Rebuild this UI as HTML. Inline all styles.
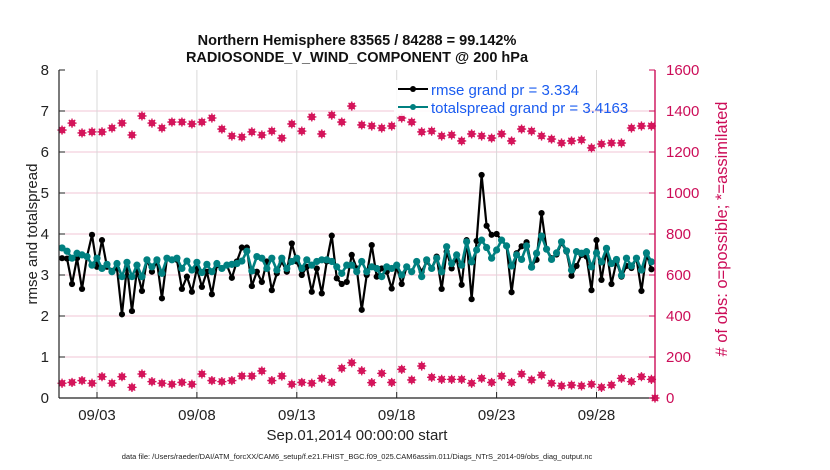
<!DOCTYPE html>
<html><head><meta charset="utf-8"><style>
body{margin:0;background:#fff;}
svg{display:block;font-family:"Liberation Sans",Arial,sans-serif;}
</style></head><body>
<svg id="chart" width="830" height="470" viewBox="0 0 830 470"></svg>
<script>
const rmseValues=[3.41,3.4,2.78,3.41,2.66,3.45,3.98,3.2,3.85,3.2,3.1,3.16,2.04,3.2,2.12,3.12,2.61,3.37,3.08,3.33,2.43,3.41,3.37,3.37,2.66,2.96,2.59,3.16,2.71,3.08,2.53,3.24,3.16,3.24,2.93,3.33,3.67,3.67,2.73,3.08,
2.83,3.33,2.63,3.04,3.33,3.08,3.77,3.33,3.0,3.2,2.59,3.16,2.55,3.33,3.96,2.92,2.78,2.83,3.49,3.16,2.15,3.0,3.73,2.96,3.16,3.08,2.67,3.2,2.78,3.2,3.08,3.33,3.08,3.33,3.16,3.45,2.66,3.57,3.16,3.4,
2.76,3.85,2.41,3.83,5.44,4.2,3.98,4.0,3.85,3.7,2.58,3.53,3.7,3.8,3.22,3.37,4.51,3.63,3.41,3.5,3.78,3.57,2.98,3.22,3.49,3.45,2.63,3.85,2.88,3.63,2.78,3.33,2.96,3.22,3.17,3.41,2.61,3.51,3.14];
const spreadValues=[3.66,3.58,3.41,3.53,3.49,3.45,3.24,3.41,3.16,3.26,3.08,3.28,2.96,3.31,2.96,3.24,2.96,3.37,3.2,3.37,3.04,3.41,3.37,3.41,3.16,3.34,3.12,3.31,3.06,3.26,3.08,3.28,3.16,3.24,3.26,3.28,3.34,3.58,3.1,3.45,
3.41,3.16,3.41,3.12,3.41,3.16,3.33,3.41,3.16,3.37,3.24,3.33,3.37,3.37,3.33,3.2,3.04,3.24,3.24,3.08,3.33,3.08,3.2,3.16,2.96,3.2,3.16,3.24,3.0,3.2,3.08,3.33,2.96,3.37,3.16,3.41,3.08,3.69,3.28,
3.49,3.24,3.81,3.32,3.61,3.85,3.67,3.41,3.61,3.85,3.71,3.22,3.49,3.38,3.71,3.19,3.53,3.95,3.63,3.38,3.54,3.81,3.59,3.12,3.57,3.53,3.57,3.2,3.54,3.32,3.65,3.28,3.38,2.99,3.41,3.22,3.41,3.12,3.54,3.32];
const obsPossible=[1307,1341,1293,1298,1298,1317,1341,1283,1376,1341,1317,1346,1346,1337,1346,1366,1312,1278,1273,1298,1283,1302,1268,1337,1302,1371,1288,1380,1346,1424,
1332,1327,1317,1327,1366,1346,1298,1302,1278,1283,1254,1288,1278,1268,1288,1254,1312,1302,1278,1263,1244,1254,1259,1220,1239,1244,1244,1317,1327,1327];
const obsLow=[72,76,85,72,104,72,104,52,117,80,72,67,76,67,117,85,80,85,107,107,132,85,107,67,76,72,96,76,145,172,
133,75,120,76,140,88,156,101,91,91,91,72,96,76,107,76,117,88,112,72,59,63,59,67,52,63,96,80,104,91];
const leftTicks=[0,1,2,3,4,5,6,7,8];
const rightTicks=[0,200,400,600,800,1000,1200,1400,1600];
const xTickDays=[3,8,13,18,23,28];
const xTickLabels=["09/03","09/08","09/13","09/18","09/23","09/28"];

const NS="http://www.w3.org/2000/svg";
const svg=document.getElementById('chart');
const L=59,R=655,T=70,B=398;
function xDay(d){return 97+(d-3)*19.98;}
function yL(v){return B-(v/8)*(B-T);}
function yR(n){return B-(n/1600)*(B-T);}
function mk(tag,attrs,parent){const e=document.createElementNS(NS,tag);for(const k in attrs)e.setAttribute(k,attrs[k]);(parent||svg).appendChild(e);return e;}
function txt(s,attrs){const e=mk('text',attrs);e.textContent=s;return e;}

leftTicks.forEach(v=>{if(v>0&&v<8){const g=mk('line',{x1:L,x2:R,y1:yL(v),y2:yL(v),stroke:'#f2c6d6','stroke-width':1});

}});
xTickDays.forEach(d=>{const g=mk('line',{x1:xDay(d),x2:xDay(d),y1:T,y2:B,stroke:'#d8d8d8','stroke-width':1});

});

function star(x,y,name){const g=mk('g',{fill:'#d4145a',stroke:'#d4145a'});


mk('circle',{cx:x,cy:y,r:3.1,'stroke-width':0.6,fill:'#d4145a'},g);
mk('path',{d:`M${x-4.6} ${y}H${x+4.6}M${x} ${y-4.6}V${y+4.6}M${x-3.2} ${y-3.2}L${x+3.2} ${y+3.2}M${x-3.2} ${y+3.2}L${x+3.2} ${y-3.2}`,'stroke-width':1.3},g);}
obsPossible.forEach((n,k)=>star(xDay(1.25+0.5*k),yR(n),'obs-count-marker'));
obsLow.forEach((n,k)=>star(xDay(1.25+0.5*k),yR(n),'obs-low-marker'));
star(R,yR(0),'obs-zero-marker');

function series(vals,color,r,name,lw){
 const pts=vals.map((v,i)=>[xDay(1.25+0.25*i),yL(v)]);
 const p=mk('polyline',{points:pts.map(p=>p.join(',')).join(' '),fill:'none',stroke:color,'stroke-width':lw,'stroke-linejoin':'round'});
 
 
 pts.forEach(q=>{const c=mk('circle',{cx:q[0],cy:q[1],r:r,fill:color});
 
 });
}
series(rmseValues,'#000',3.1,'rmse',2.2);
series(spreadValues,'#008080',3.6,'totalspread',2.6);

const ax=mk('g',{});


mk('line',{x1:L,x2:L,y1:T,y2:B,stroke:'#222','stroke-width':1.2},ax);
mk('line',{x1:L,x2:R,y1:B,y2:B,stroke:'#222','stroke-width':1.2},ax);
mk('line',{x1:R,x2:R,y1:T,y2:B,stroke:'#cc0d58','stroke-width':1.4},ax);
leftTicks.forEach(v=>{mk('line',{x1:L,x2:L+6,y1:yL(v),y2:yL(v),stroke:'#222'},ax);
const t=txt(String(v),{x:L-10,y:yL(v)+5,'text-anchor':'end','font-size':15,fill:'#222'});

});
rightTicks.forEach(v=>{mk('line',{x1:R-6,x2:R,y1:yR(v),y2:yR(v),stroke:'#cc0d58'},ax);
const t=txt(String(v),{x:R+11,y:yR(v)+5,'font-size':15,fill:'#cc0d58'});

});
xTickDays.forEach((d,i)=>{mk('line',{x1:xDay(d),x2:xDay(d),y1:B-6,y2:B,stroke:'#222'},ax);
const t=txt(xTickLabels[i],{x:xDay(d),y:420,'text-anchor':'middle','font-size':15,fill:'#222'});

});
</script>
<svg width="830" height="470" style="position:absolute;left:0;top:0">
<g font-family="Liberation Sans, Arial, sans-serif">
<text x="357" y="45" text-anchor="middle" font-size="14.5" font-weight="bold" fill="#111">Northern Hemisphere 83565 / 84288 = 99.142%</text>
<text x="357" y="62" text-anchor="middle" font-size="14.5" font-weight="bold" fill="#111">RADIOSONDE_V_WIND_COMPONENT @ 200 hPa</text>
<text transform="translate(37,234) rotate(-90)" text-anchor="middle" font-size="15" fill="#222">rmse and totalspread</text>
<text transform="translate(727,229) rotate(-90)" text-anchor="middle" font-size="16.5" fill="#cc0d58"># of obs: o=possible; *=assimilated</text>
<text x="357" y="440" text-anchor="middle" font-size="15" fill="#222">Sep.01,2014 00:00:00 start</text>
<text x="357" y="459" text-anchor="middle" font-size="7.5" fill="#222">data file: /Users/raeder/DAI/ATM_forcXX/CAM6_setup/f.e21.FHIST_BGC.f09_025.CAM6assim.011/Diags_NTrS_2014-09/obs_diag_output.nc</text>
<g>
<rect x="394" y="80" width="192" height="36" fill="#fff" opacity="0.85"/>
<line x1="398" y1="89" x2="428" y2="89" stroke="#000" stroke-width="2"/><circle cx="413" cy="89" r="3" fill="#000"/>
<text x="431" y="95" font-size="15" fill="#1a5cf0">rmse grand pr = 3.334</text>
<line x1="398" y1="107" x2="428" y2="107" stroke="#008080" stroke-width="2"/><circle cx="413" cy="107" r="3" fill="#008080"/>
<text x="431" y="113" font-size="15" fill="#1a5cf0">totalspread grand pr = 3.4163</text>
</g>
</g>
</svg>
</body></html>
